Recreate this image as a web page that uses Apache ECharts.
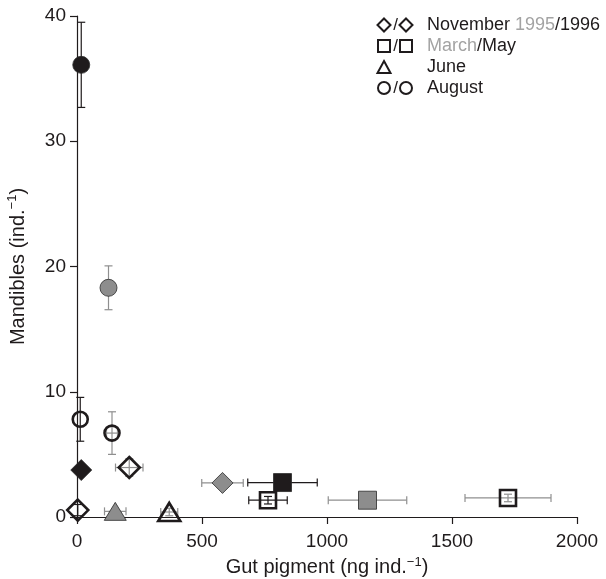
<!DOCTYPE html>
<html>
<head>
<meta charset="utf-8">
<script src="https://cdn.jsdelivr.net/npm/echarts@6/dist/echarts.min.js"></script>
<style>
  html, body { margin: 0; padding: 0; background: #ffffff; }
  #chart { width: 606px; height: 579px; }
</style>
</head>
<body>
<div id="chart"></div>
<script>
// Mean mandible counts against mean gut pigment per individual, with SD bars.
const month        = ['August', 'August', 'August', 'August',
                      'November', 'November', 'November', 'November',
                      'May', 'May', 'March', 'March', 'June', 'June'];
const gutPigment   = [17, 126, 13, 140, 17, 3, 209, 582, 822, 764, 1162, 1724, 153, 369];
const gutPigmentSD = [0, 0, 0, 22, 0, 0, 55, 83, 139, 77, 157, 172, 43, 34];
const mandibles    = [36.1, 18.3, 7.8, 6.7, 3.75, 0.55, 3.95, 2.72, 2.75, 1.34, 1.34, 1.52, 0.45, 0.4];
const mandiblesSD  = [3.4, 1.75, 1.75, 1.7, 0, 0.45, 0.7, 0, 0, 0.3, 0, 0.3, 0, 0.3];
// grey = November 1995 / March samples, black = November 1996 / May samples
const earlySample  = [false, true, false, true, false, false, true, true, false, false, true, true, true, true];
const openMarker   = [false, false, true, true, false, true, true, false, false, true, false, true, false, true];
const xTicks = [0, 500, 1000, 1500, 2000];
const yTicks = [0, 10, 20, 30, 40];

const INK = '#1f1b1c';
const GREY = '#8d8d8d';
const BAR_GREY = '#8f8f8f';
const TEXT_GREY = '#a3a3a3';
const FONT = '"Liberation Sans", Arial, Helvetica, sans-serif';

const symbolFor = { August: 'circle', November: 'diamond', March: 'rect', May: 'rect', June: 'triangle' };
const sizeFor = { circle: 17, diamond: [21, 21], rect: 18, triangle: [22, 18] };

const markerData = month.map((m, i) => {
  const symbol = symbolFor[m];
  const open = openMarker[i];
  let size = sizeFor[symbol];
  if (open && symbol === 'circle') size = 15;
  if (open && symbol === 'rect') size = 16;
  return {
    value: [gutPigment[i], mandibles[i]],
    symbol: symbol,
    symbolSize: size,
    itemStyle: open
      ? { color: 'rgba(255,255,255,0)', borderColor: INK, borderWidth: 2.6, opacity: 1 }
      : { color: earlySample[i] ? GREY : INK, borderColor: '#2a2a2a', borderWidth: 0.8, opacity: 1 }
  };
});

const errorData = month.map((m, i) => [gutPigment[i], mandibles[i], gutPigmentSD[i], mandiblesSD[i], earlySample[i] ? 1 : 0]);

function renderErrorBar(params, api) {
  const x = api.value(0), y = api.value(1);
  const xe = api.value(2), ye = api.value(3);
  const stroke = api.value(4) ? BAR_GREY : INK;
  const style = { stroke: stroke, lineWidth: 1.2, fill: null };
  const cap = 4;
  const children = [];
  const seg = (x1, y1, x2, y2) => children.push({ type: 'line', shape: { x1, y1, x2, y2 }, style });
  if (ye > 0) {
    const top = api.coord([x, y + ye]);
    const bot = api.coord([x, y - ye]);
    seg(top[0], top[1], bot[0], bot[1]);
    seg(top[0] - cap, top[1], top[0] + cap, top[1]);
    seg(bot[0] - cap, bot[1], bot[0] + cap, bot[1]);
  }
  if (xe > 0) {
    const lft = api.coord([x - xe, y]);
    const rgt = api.coord([x + xe, y]);
    seg(lft[0], lft[1], rgt[0], rgt[1]);
    seg(lft[0], lft[1] - cap, lft[0], lft[1] + cap);
    seg(rgt[0], rgt[1] - cap, rgt[0], rgt[1] + cap);
  }
  return { type: 'group', children };
}

// legend drawn as graphic elements
const legendRows = [
  { y: 25, symbols: ['diamond', 'diamond'], text: 'November {g|1995}/1996' },
  { y: 46, symbols: ['rect', 'rect'], text: '{g|March}/May' },
  { y: 67, symbols: ['triangle'], text: 'June' },
  { y: 88, symbols: ['circle', 'circle'], text: 'August' }
];
function legendSymbol(kind, cx, cy) {
  const st = { stroke: INK, lineWidth: 2, fill: 'none' };
  if (kind === 'diamond') return { type: 'polygon', shape: { points: [[cx, cy - 6.5], [cx + 6.5, cy], [cx, cy + 6.5], [cx - 6.5, cy]] }, style: st };
  if (kind === 'rect') return { type: 'rect', shape: { x: cx - 6, y: cy - 6, width: 12, height: 12 }, style: st };
  if (kind === 'triangle') return { type: 'polygon', shape: { points: [[cx, cy - 6], [cx + 6.5, cy + 6], [cx - 6.5, cy + 6]] }, style: st };
  return { type: 'circle', shape: { cx, cy, r: 6 }, style: st };
}
const legendGraphics = [];
legendRows.forEach(row => {
  legendGraphics.push(legendSymbol(row.symbols[0], 384, row.y));
  if (row.symbols.length > 1) {
    legendGraphics.push({ type: 'text', x: 395.5, y: row.y, style: { text: '/', font: '17px ' + FONT, fill: INK, align: 'center', verticalAlign: 'middle' } });
    legendGraphics.push(legendSymbol(row.symbols[1], 406, row.y));
  }
  legendGraphics.push({
    type: 'text', x: 427, y: row.y,
    style: {
      text: row.text, fontSize: 18, fontFamily: FONT, fill: INK,
      align: 'left', verticalAlign: 'middle',
      rich: { g: { fontSize: 18, fontFamily: FONT, fill: TEXT_GREY } }
    }
  });
});

const chart = echarts.init(document.getElementById('chart'), null, { renderer: 'canvas' });
const axisCommon = {
  type: 'value',
  nameLocation: 'middle',
  axisLine: { show: true, onZero: false, lineStyle: { color: INK, width: 1.2 } },
  axisTick: { show: true, length: 7, lineStyle: { color: INK, width: 1.2 } },
  splitLine: { show: false },
  nameTextStyle: {
    fontSize: 20, fontFamily: FONT, color: INK,
    rich: { sup: { fontSize: 13, fontFamily: FONT, color: INK, padding: [0, 0, 11, 0] } }
  }
};
const plainNumber = v => String(v);
chart.setOption({
  animation: false,
  backgroundColor: '#ffffff',
  textStyle: { fontFamily: FONT },
  grid: { left: 77, right: 29, top: 16, bottom: 62, containLabel: false, outerBoundsMode: 'none' },
  xAxis: Object.assign({}, axisCommon, {
    min: xTicks[0], max: xTicks[xTicks.length - 1], interval: xTicks[1] - xTicks[0],
    name: 'Gut pigment (ng ind.{sup|\u22121})',
    nameGap: 30,
    axisLabel: { fontSize: 19, color: INK, fontFamily: FONT, margin: 15, formatter: plainNumber }
  }),
  yAxis: Object.assign({}, axisCommon, {
    min: yTicks[0], max: yTicks[yTicks.length - 1], interval: yTicks[1] - yTicks[0],
    name: 'Mandibles (ind.{sup|\u22121})',
    nameGap: 47,
    axisLabel: { fontSize: 19, color: INK, fontFamily: FONT, margin: 11, formatter: plainNumber }
  }),
  graphic: legendGraphics,
  series: [
    {
      type: 'custom',
      data: errorData,
      encode: { x: 0, y: 1 },
      renderItem: renderErrorBar,
      z: 2,
      silent: true,
      clip: false
    },
    {
      type: 'scatter',
      data: markerData,
      z: 3,
      silent: true,
      clip: false,
      itemStyle: { opacity: 1 },
      emphasis: { disabled: true }
    }
  ]
});
</script>
</body>
</html>
